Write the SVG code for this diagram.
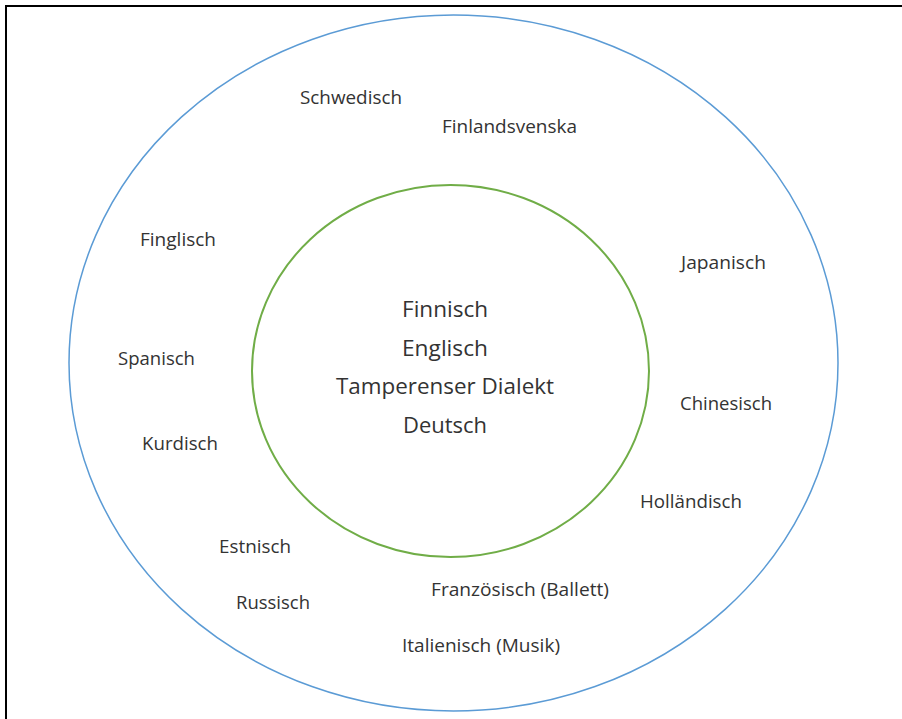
<svg xmlns="http://www.w3.org/2000/svg" width="902" height="719" viewBox="0 0 902 719">
<style>
.lbl{font-family:"Open Sans","Liberation Sans",sans-serif;font-size:18px;fill:#333333}
.core{font-family:"Open Sans","Liberation Sans",sans-serif;font-size:22px;fill:#333333;text-anchor:middle}
</style>
<rect x="0" y="0" width="902" height="719" fill="#ffffff"/>
<rect x="6" y="6" width="900" height="720" fill="none" stroke="#000000" stroke-width="2"/>
<g id="outer">
<ellipse cx="453.5" cy="363" rx="384.5" ry="348" fill="none" stroke="#5B9BD5" stroke-width="1.5"/>
<text class="lbl" x="300" y="104" textLength="102" lengthAdjust="spacingAndGlyphs">Schwedisch</text>
<text class="lbl" x="442" y="133" textLength="135" lengthAdjust="spacingAndGlyphs">Finlandsvenska</text>
<text class="lbl" x="140" y="246" textLength="76" lengthAdjust="spacingAndGlyphs">Finglisch</text>
<text class="lbl" x="681" y="269" textLength="85" lengthAdjust="spacingAndGlyphs">Japanisch</text>
<text class="lbl" x="118" y="365" textLength="77" lengthAdjust="spacingAndGlyphs">Spanisch</text>
<text class="lbl" x="680" y="410" textLength="92" lengthAdjust="spacingAndGlyphs">Chinesisch</text>
<text class="lbl" x="142" y="450" textLength="76" lengthAdjust="spacingAndGlyphs">Kurdisch</text>
<text class="lbl" x="640" y="508" textLength="102" lengthAdjust="spacingAndGlyphs">Holländisch</text>
<text class="lbl" x="219" y="553" textLength="72" lengthAdjust="spacingAndGlyphs">Estnisch</text>
<text class="lbl" x="431" y="596" textLength="178" lengthAdjust="spacingAndGlyphs">Französisch (Ballett)</text>
<text class="lbl" x="236" y="609" textLength="74" lengthAdjust="spacingAndGlyphs">Russisch</text>
<text class="lbl" x="402" y="652" textLength="158" lengthAdjust="spacingAndGlyphs">Italienisch (Musik)</text>
</g>
<g id="inner">
<ellipse cx="450.5" cy="371" rx="198.5" ry="186" fill="none" stroke="#70AD47" stroke-width="2"/>
<text class="core" x="445" y="317" textLength="86" lengthAdjust="spacingAndGlyphs">Finnisch</text>
<text class="core" x="445" y="356" textLength="86" lengthAdjust="spacingAndGlyphs">Englisch</text>
<text class="core" x="445" y="394" textLength="218" lengthAdjust="spacingAndGlyphs">Tamperenser Dialekt</text>
<text class="core" x="445" y="433" textLength="84" lengthAdjust="spacingAndGlyphs">Deutsch</text>
</g>
<g id="connectors"/>
</svg>
